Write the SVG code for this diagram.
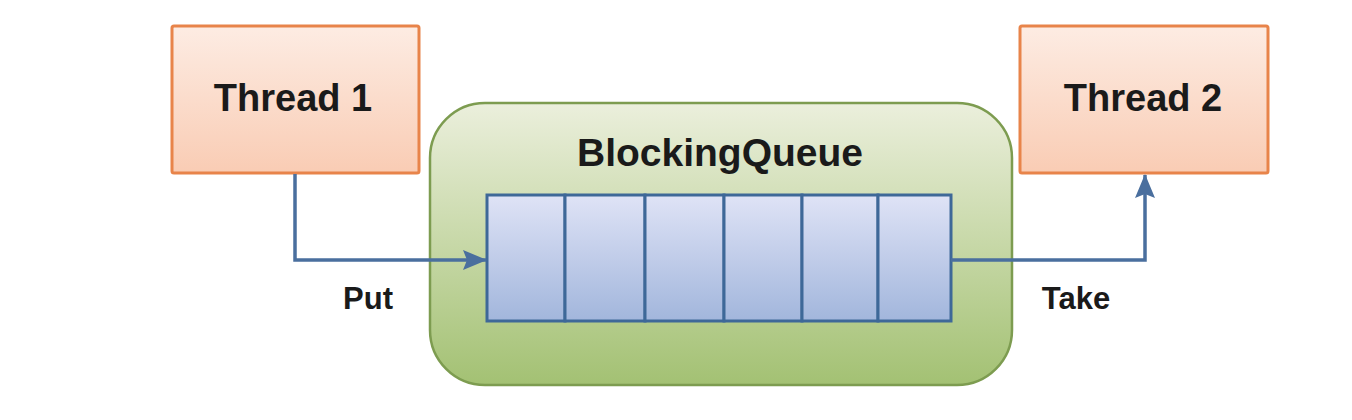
<svg xmlns="http://www.w3.org/2000/svg" width="1352" height="420" viewBox="0 0 1352 420">
<style>
.thread{stroke:#E8844A;stroke-width:3;fill:url(#gOrange)}
.cell{stroke:#3E6898;stroke-width:3;fill:url(#gBlue)}
.conn{fill:none;stroke:#4A6F9E;stroke-width:3.5}
.t{font-family:"Liberation Sans",Arial,sans-serif;font-weight:bold;fill:#1a1a1a;text-anchor:middle}
</style>
<defs>
<linearGradient id="gOrange" x1="0" y1="0" x2="0" y2="1"><stop offset="0" stop-color="#FDECE3"/><stop offset="1" stop-color="#F9CCB4"/></linearGradient>
<linearGradient id="gGreen" x1="0" y1="0" x2="0" y2="1"><stop offset="0" stop-color="#EBEFDC"/><stop offset="1" stop-color="#A3C173"/></linearGradient>
<linearGradient id="gBlue" x1="0" y1="0" x2="0" y2="1"><stop offset="0" stop-color="#DFE3F6"/><stop offset="1" stop-color="#A2B6DC"/></linearGradient>
<marker id="arr" viewBox="0 0 24 24" refX="23" refY="12" markerWidth="24" markerHeight="24" markerUnits="userSpaceOnUse" orient="auto"><path d="M0,2 L24,12 L0,22 L4,12 Z" fill="#4A6F9E"/></marker>
</defs>
<rect width="1352" height="420" fill="#FFFFFF"/>
<g id="thread1"><rect class="thread" x="172" y="26" width="247" height="147" rx="2"/><text class="t" x="293" y="111" font-size="38">Thread 1</text></g>
<g id="thread2"><rect class="thread" x="1020" y="26" width="248" height="147" rx="2"/><text class="t" x="1143" y="111" font-size="38">Thread 2</text></g>
<g id="blockingqueue">
<rect x="430" y="103" width="582" height="282" rx="55" fill="url(#gGreen)" stroke="#7D9C50" stroke-width="2.5"/>
<text class="t" x="720" y="166" font-size="39">BlockingQueue</text>
<rect class="cell" x="487" y="195" width="78" height="126"/>
<rect class="cell" x="565" y="195" width="80" height="126"/>
<rect class="cell" x="645" y="195" width="79" height="126"/>
<rect class="cell" x="724" y="195" width="78" height="126"/>
<rect class="cell" x="802" y="195" width="76" height="126"/>
<rect class="cell" x="878" y="195" width="73" height="126"/>
</g>
<g id="connectors">
<path class="conn" d="M295,174 V260 H486" marker-end="url(#arr)"/>
<path class="conn" d="M951,260 H1145 V175" marker-end="url(#arr)"/>
<text class="t" x="368" y="309" font-size="31">Put</text>
<text class="t" x="1076" y="309" font-size="31">Take</text>
</g>
</svg>
